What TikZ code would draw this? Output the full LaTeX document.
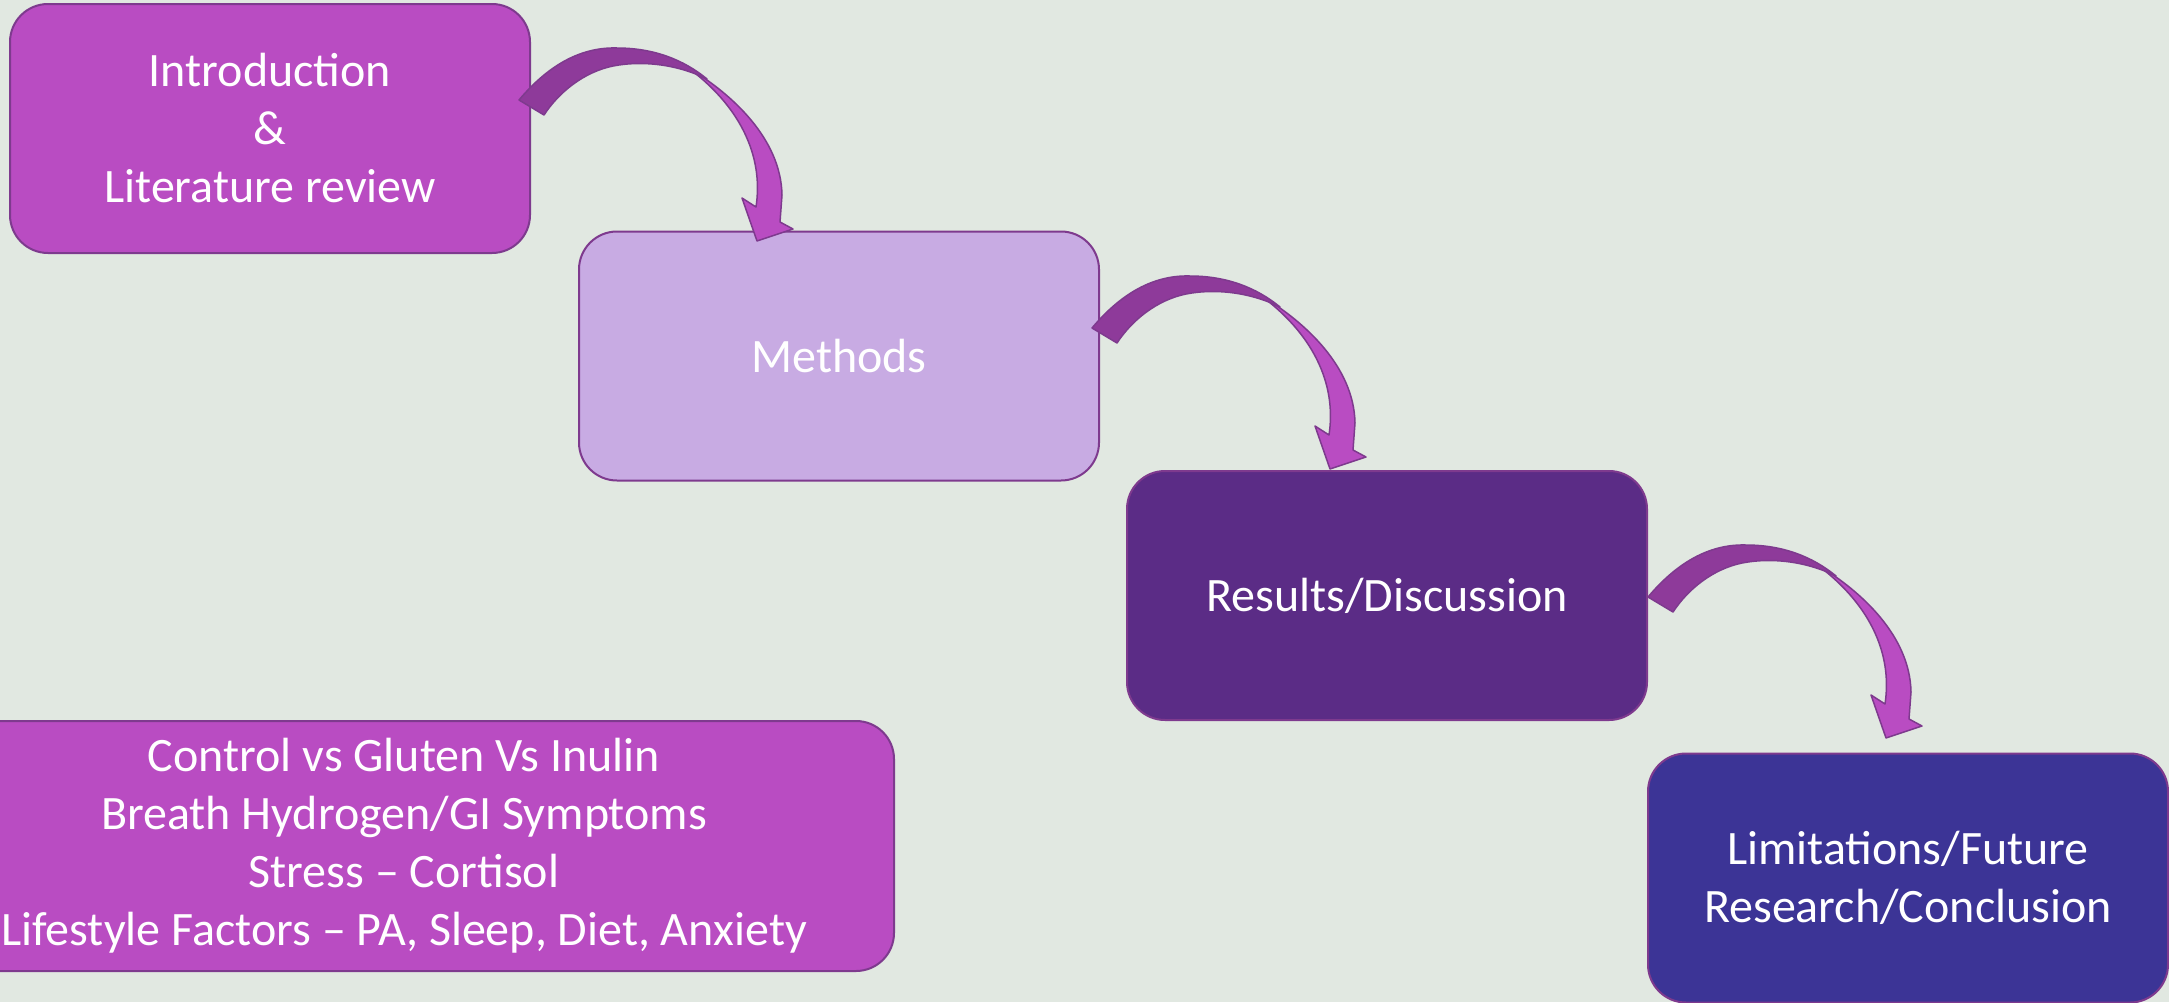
\documentclass[tikz,border=0pt]{standalone}
\usepackage{fontspec}
\setmainfont{Carlito}
\definecolor{bgcol}{HTML}{E1E8E1}
\definecolor{boxline}{HTML}{7E3A8E}
\definecolor{magbox}{HTML}{B94CC2}
\definecolor{lavbox}{HTML}{C8ABE3}
\definecolor{plumbox}{HTML}{5B2C86}
\definecolor{indbox}{HTML}{3C3496}
\definecolor{arrdark}{HTML}{8E3A9A}
\definecolor{arrlight}{HTML}{B94CC2}
\definecolor{arrline}{HTML}{7E3A8E}
\begin{document}
\begin{tikzpicture}[x=1pt,y=-1pt]
\tikzset{
  stage/.style={draw=boxline, line width=2pt, rounded corners=38pt,
    minimum width=520pt, minimum height=249pt, inner sep=0pt,
    align=center, text=white, font=\fontsize{48}{58}\selectfont},
  arrowdark/.style={fill=arrdark, draw=arrline, line width=1.5pt, line join=round},
  arrowlight/.style={fill=arrlight, draw=arrline, line width=1.5pt, line join=round},
  curvarrow/.pic={
    \path[arrowlight] (168,-33) .. controls (215,-5) and (262,40) .. (263,95)
      -- (261,122) -- (274,129) -- (238,141) -- (223,98) -- (237,107)
      .. controls (245,55) and (220,5) .. (168,-33) -- cycle;
    \path[arrowdark] (0,0) .. controls (32,-38) and (65,-53) .. (98,-52)
      .. controls (135,-52) and (165,-40) .. (188,-21)
      .. controls (160,-35) and (125,-40) .. (94,-34)
      .. controls (65,-28) and (40,-8) .. (25,15) -- cycle;
  }
}
\useasboundingbox (0,0) rectangle (2169,1002);
\fill[bgcol] (0,0) rectangle (2169,1002);
\begin{scope}
\clip (0,0) rectangle (2169,1002);
\node[stage, fill=magbox] (intro) at (270,128.5) {Introduction\\\&\\Literature review};
\node[stage, fill=lavbox] (methods) at (839,356) {Methods};
\node[stage, fill=plumbox] (results) at (1387,595.5) {Results/Discussion};
\node[stage, fill=indbox] (limits) at (1908,878) {Limitations/Future\\Research/Conclusion};
\node[stage, fill=magbox, minimum width=980pt, minimum height=250pt] (measures) at (404,846)
  {Control vs Gluten Vs Inulin\\Breath Hydrogen/GI Symptoms\\Stress – Cortisol\\Lifestyle Factors – PA, Sleep, Diet, Anxiety};
\pic at ([shift={(-12,-28.5)}]intro.east) {curvarrow};
\pic at ([shift={(-8,-28)}]methods.east) {curvarrow};
\pic at ([shift={(0,1.5)}]results.east) {curvarrow};
\end{scope}
\end{tikzpicture}
\end{document}
